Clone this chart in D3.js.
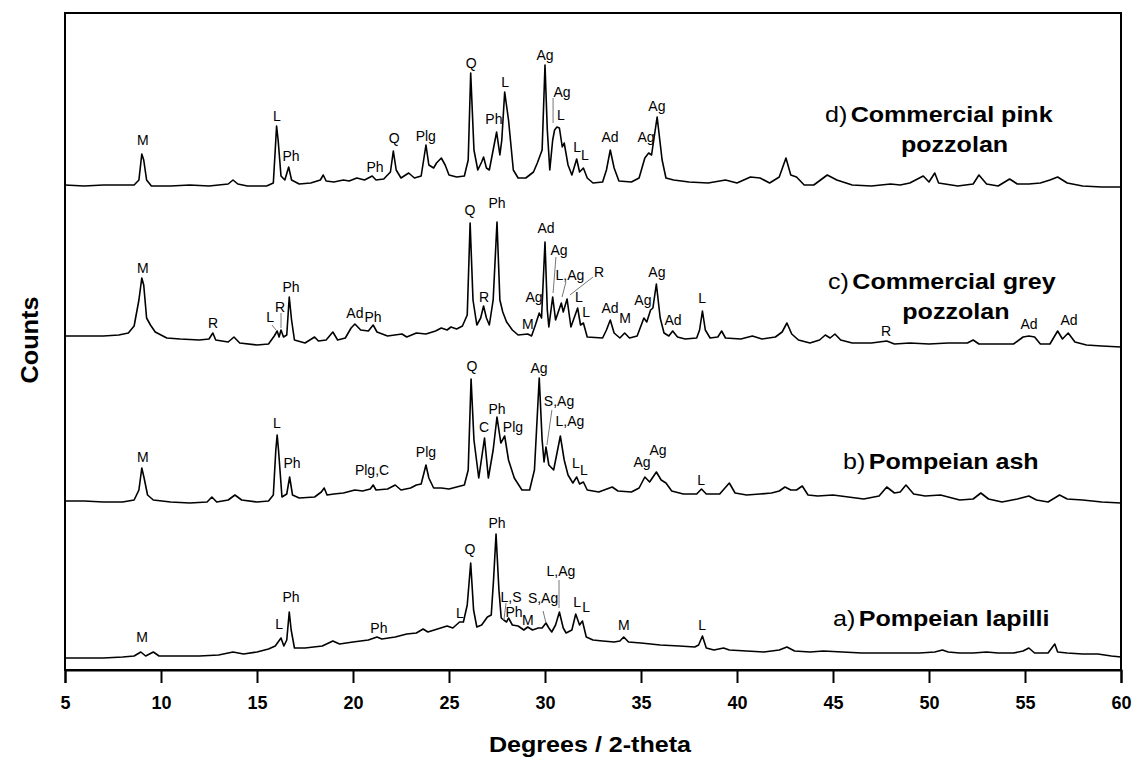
<!DOCTYPE html>
<html><head><meta charset="utf-8">
<script src="https://cdn.jsdelivr.net/npm/d3@7/dist/d3.min.js"></script>
<style>
body{margin:0;background:#fff}
text{font-family:Arial,"Liberation Sans",Helvetica,sans-serif;fill:#000}
</style>
</head><body>
<svg id="chart" width="1134" height="760"></svg>
<script>
// ---- DATA (2-theta in degrees, counts offset-stacked, arbitrary units) ----
const xTicks = [5,10,15,20,25,30,35,40,45,50,55,60];

const seriesD = [[5.0,485],[6.0,484],[7.0,485],[8.0,485],[8.6,485],[8.85,490],[9.0,516],[9.1,510],[9.25,490],[9.5,484],[10.5,484],[11.5,485],[12.5,484],[13.5,486],[13.75,490],[14.0,486],[14.5,484],[15.5,484],[15.85,487],[15.95,520],[16.02,544],[16.1,530],[16.25,494],[16.45,490],[16.65,503],[16.8,490],[17.2,486],[17.8,487],[18.3,490],[18.45,495],[18.6,489],[19.0,488],[19.5,490],[19.8,489],[20.2,492],[20.6,490],[21.0,494],[21.2,490],[21.6,491],[21.95,498],[22.1,519],[22.25,500],[22.5,492],[22.9,497],[23.2,492],[23.55,494],[23.8,525],[23.95,505],[24.2,502],[24.35,507],[24.6,512],[24.8,505],[25.0,495],[25.4,493],[25.8,494],[26.0,510],[26.13,597],[26.3,520],[26.5,500],[26.7,508],[26.8,513],[26.95,502],[27.1,500],[27.3,520],[27.48,538],[27.65,515],[27.75,530],[27.9,578],[28.1,550],[28.2,530],[28.35,500],[28.6,492],[29.0,492],[29.4,498],[29.6,507],[29.85,520],[30.0,605],[30.12,540],[30.25,500],[30.4,530],[30.5,540],[30.62,543],[30.75,542],[30.9,523],[31.0,527],[31.2,505],[31.4,495],[31.65,511],[31.8,498],[32.0,502],[32.2,492],[32.5,487],[33.0,488],[33.2,500],[33.4,520],[33.6,502],[33.85,489],[34.5,488],[34.9,492],[35.2,512],[35.4,517],[35.55,515],[35.84,553],[36.1,510],[36.3,492],[36.7,490],[37.5,488],[38.5,487],[39.4,490],[40.0,487],[40.7,493],[41.2,492],[41.7,487],[42.2,493],[42.55,512],[42.8,495],[43.1,493],[43.5,485],[44.0,485],[44.7,495],[45.2,490],[46.0,485],[47.0,484],[48.0,486],[48.5,485],[49.0,487],[49.7,494],[50.0,488],[50.3,497],[50.5,487],[51.5,484],[52.3,486],[52.6,495],[53.0,486],[53.6,484],[54.2,491],[54.6,486],[55.2,486],[55.8,487],[56.3,490],[56.7,493],[57.2,487],[58.0,484],[59.0,483],[60.0,483]];

const seriesC = [[5.0,334],[6.0,334],[7.0,334],[7.8,335],[8.3,337],[8.6,344],[8.85,370],[9.0,392],[9.1,385],[9.25,352],[9.45,345],[9.7,338],[10.3,332],[11.0,331],[12.0,330],[12.5,331],[12.7,337],[12.85,330],[13.5,328],[13.8,333],[14.1,327],[15.0,325],[15.6,326],[15.9,334],[16.05,339],[16.15,333],[16.25,340],[16.38,333],[16.55,335],[16.68,373],[16.8,350],[16.95,330],[17.5,327],[18.0,333],[18.2,329],[18.6,330],[18.95,338],[19.2,330],[19.6,332],[19.9,342],[20.1,346],[20.4,340],[20.8,339],[21.05,345],[21.25,338],[21.8,334],[22.55,336],[22.8,333],[23.3,337],[23.8,336],[24.3,339],[24.6,342],[24.9,340],[25.1,343],[25.4,341],[25.7,344],[25.95,355],[26.1,447],[26.25,370],[26.45,345],[26.65,352],[26.8,364],[26.95,352],[27.1,345],[27.3,370],[27.5,448],[27.65,370],[27.8,358],[28.0,348],[28.3,340],[28.6,335],[29.1,336],[29.3,334],[29.5,345],[29.7,357],[29.82,352],[30.0,428],[30.12,360],[30.2,343],[30.4,373],[30.55,350],[30.85,367],[30.95,358],[31.15,371],[31.35,343],[31.7,362],[31.85,345],[32.0,347],[32.2,333],[33.0,332],[33.2,340],[33.4,350],[33.6,337],[33.9,332],[34.15,337],[34.4,332],[34.8,334],[35.15,352],[35.3,348],[35.5,360],[35.62,362],[35.8,386],[36.0,352],[36.2,337],[36.45,334],[36.65,339],[36.9,333],[37.3,331],[37.9,332],[38.05,340],[38.2,359],[38.35,340],[38.6,332],[39.0,333],[39.2,339],[39.4,332],[40.2,331],[40.8,334],[41.3,331],[42.0,333],[42.35,338],[42.6,347],[42.85,336],[43.2,330],[43.8,327],[44.3,330],[44.6,335],[44.85,332],[45.1,336],[45.4,330],[46.0,327],[47.0,327],[47.8,329],[48.2,326],[49.0,327],[50.0,326],[51.0,327],[52.0,327],[52.3,330],[52.6,326],[53.5,326],[54.4,326],[54.9,333],[55.2,334],[55.5,333],[55.8,326],[56.3,326],[56.7,339],[56.95,331],[57.25,337],[57.6,328],[58.2,325],[59.0,324],[60.0,323]];

const seriesB = [[5.0,169],[6.0,169],[7.0,168],[8.0,168],[8.6,170],[8.85,180],[9.0,202],[9.12,192],[9.3,175],[9.6,170],[10.5,168],[11.5,167],[12.4,168],[12.65,173],[12.9,168],[13.5,170],[13.85,175],[14.2,170],[15.0,168],[15.6,169],[15.85,175],[15.98,220],[16.05,235],[16.12,220],[16.3,173],[16.55,176],[16.7,193],[16.85,175],[17.2,172],[18.0,173],[18.35,178],[18.5,182],[18.65,175],[19.0,176],[19.5,177],[20.1,180],[20.5,179],[20.9,181],[21.05,185],[21.2,180],[21.8,181],[22.2,185],[22.5,180],[23.0,182],[23.3,185],[23.55,186],[23.8,205],[23.95,192],[24.2,182],[24.6,182],[25.0,181],[25.4,183],[25.8,185],[26.0,200],[26.15,291],[26.3,230],[26.55,192],[26.85,232],[27.05,192],[27.3,220],[27.5,253],[27.7,227],[27.9,234],[28.1,210],[28.4,192],[28.8,180],[29.2,180],[29.45,200],[29.7,292],[29.85,230],[29.95,208],[30.05,223],[30.2,205],[30.45,200],[30.8,234],[31.0,210],[31.2,195],[31.45,187],[31.65,193],[31.8,186],[32.0,188],[32.2,180],[32.8,178],[33.5,183],[33.8,179],[34.5,178],[34.9,182],[35.2,193],[35.45,188],[35.8,198],[36.05,190],[36.3,187],[36.6,179],[37.2,176],[37.9,176],[38.15,181],[38.4,176],[39.1,176],[39.6,187],[39.9,177],[40.5,175],[41.2,176],[41.8,177],[42.2,179],[42.5,183],[42.8,180],[43.1,180],[43.4,184],[43.7,175],[44.2,174],[45.0,175],[45.8,173],[46.6,171],[47.4,174],[47.8,183],[48.2,177],[48.5,178],[48.8,185],[49.2,176],[49.8,174],[50.6,175],[51.6,170],[52.3,171],[52.7,177],[53.1,171],[53.8,168],[54.6,171],[55.2,174],[55.6,170],[56.2,168],[56.8,175],[57.2,171],[58.0,170],[59.0,168],[60.0,167]];

const seriesA = [[5.0,12],[6.0,12],[7.0,12],[8.0,13],[8.6,14],[8.95,18],[9.2,14],[9.6,18],[9.9,14],[11.0,14],[12.0,14],[13.0,15],[13.75,18],[14.3,16],[15.0,18],[15.6,21],[15.95,24],[16.25,32],[16.4,24],[16.55,30],[16.68,58],[16.78,40],[16.95,22],[17.5,22],[18.4,24],[18.95,29],[19.3,26],[20.0,28],[20.8,30],[21.25,33],[21.5,31],[22.2,33],[22.8,36],[23.3,37],[23.65,41],[23.9,38],[24.4,41],[24.9,44],[25.2,42],[25.55,48],[25.75,48],[25.95,65],[26.13,107],[26.28,60],[26.45,43],[26.7,45],[27.0,53],[27.2,55],[27.32,90],[27.45,136],[27.6,80],[27.72,52],[27.85,50],[28.0,48],[28.1,52],[28.3,45],[28.6,44],[28.9,40],[29.1,43],[29.35,40],[29.65,42],[29.85,42],[30.05,47],[30.2,42],[30.35,38],[30.55,45],[30.75,58],[30.95,42],[31.1,37],[31.4,40],[31.6,56],[31.8,45],[31.95,49],[32.15,33],[32.5,30],[33.0,29],[33.6,28],[33.9,29],[34.1,33],[34.35,28],[35.0,27],[36.0,25],[37.0,24],[37.8,23],[38.0,25],[38.2,34],[38.4,22],[38.8,20],[39.3,22],[39.6,20],[40.5,19],[41.4,18],[42.2,20],[42.6,23],[43.0,19],[43.8,18],[44.5,19],[45.5,18],[46.5,17],[47.5,17],[48.5,17],[49.5,17],[50.3,18],[50.7,20],[51.0,18],[51.6,17],[52.3,17],[53.0,18],[53.6,17],[54.4,17],[54.9,19],[55.2,22],[55.5,17],[56.2,17],[56.55,26],[56.7,18],[57.2,17],[58.0,16],[58.8,16],[59.5,14],[60.0,13]];

// peak labels: [text, 2-theta, counts]
const labelsD = [["M",9.05,530],["L",16.03,554],["Ph",16.77,514],["Ph",21.15,503],["Q",22.14,532],["Plg",23.79,534],["Q",26.15,607],["Ph",27.34,551],["L",27.92,588],["Ag",30.0,615],["Ag",30.89,578],["L",30.83,555],["L",31.67,523],["L",32.08,515],["Ad",33.39,533],["Ag",35.26,533],["Ag",35.83,564]];
const labelsC = [["M",9.05,402],["R",12.71,347],["L",15.68,353],["R",16.2,363],["Ph",16.77,383],["Ad",20.1,357],["Ph",21.04,353],["Q",26.09,460],["R",26.82,373],["Ph",27.5,467],["M",29.11,346],["Ag",29.43,373],["Ad",30.05,442],["Ag",30.73,420],["L,Ag",31.3,395],["R",32.81,398],["L",31.77,373],["L",32.14,358],["Ad",33.39,362],["M",34.17,352],["Ag",35.1,370],["Ag",35.83,398],["Ad",36.67,350],["L",38.18,372],["R",47.76,339],["Ad",55.21,346],["Ad",57.29,350]];
const labelsB = [["M",9.06,213],["L",16.04,247],["Ph",16.82,207],["Plg,C",20.99,200],["Plg",23.8,218],["Q",26.2,304],["C",26.82,243],["Ph",27.5,261],["Plg",28.33,243],["Ag",29.69,302],["S,Ag",30.73,269],["L,Ag",31.3,249],["L",31.61,207],["L",32.03,200],["Ag",35.05,208],["Ag",35.89,220],["L",38.13,190]];
const labelsA = [["M",9.01,33],["L",16.15,46],["Ph",16.77,73],["Ph",21.35,42],["L",25.57,57],["Q",26.09,121],["Ph",27.5,147],["L,S",28.23,73],["Ph",28.39,58],["M",29.11,50],["S,Ag",29.9,72],["L,Ag",30.83,99],["L",31.67,68],["L",32.14,63],["M",34.11,45],["L",38.18,45]];

// leader lines: [2θ1, counts1, 2θ2, counts2]
const leaders = [[30.42,572,30.42,547],[15.78,345,15.99,340],[16.25,357,16.25,342],[30.57,413,30.42,377],[31.09,388,30.89,373],[32.5,393,31.3,375],[30.36,260,30.1,225],[27.97,67,27.86,50],[29.9,59,30.05,47],[30.73,90,30.73,62]];

// sample names: [prefix, name line 1, name line 2, 2θ of left edge, counts line 1, 2θ centre line 2, counts line 2]
const sampleNames = [
  ["d)","Commercial pink","pozzolan",44.58,555,51.33,525],
  ["c)","Commercial grey","pozzolan",44.74,388,51.4,358],
  ["b)","Pompeian ash","",45.52,208,0,0],
  ["a)","Pompeian lapilli","",45.0,51,0,0]
];

// ---- DRAW ----
const svg = d3.select("#chart");
const L = 65, R = 1121, T = 13, B = 670;
const x = d3.scaleLinear().domain([5,60]).range([L,R]);
const y = d3.scaleLinear().domain([0,657]).range([B,T]);

const line = d3.line().x(d=>x(d[0])).y(d=>y(d[1]));
[seriesA,seriesB,seriesC,seriesD].forEach(s=>{
  svg.append("path").datum(s).attr("d",line)
    .attr("fill","none").attr("stroke","#000").attr("stroke-width",1.6)
    .attr("stroke-linejoin","round");
});

svg.append("g").selectAll("line").data(leaders).join("line")
  .attr("x1",d=>x(d[0])).attr("y1",d=>y(d[1]))
  .attr("x2",d=>x(d[2])).attr("y2",d=>y(d[3]))
  .attr("stroke","#777").attr("stroke-width",1);

const allLabels = [].concat(labelsA,labelsB,labelsC,labelsD);
svg.append("g").selectAll("text").data(allLabels).join("text")
  .attr("x",d=>x(d[1])).attr("y",d=>y(d[2]))
  .attr("text-anchor","middle").attr("dominant-baseline","central")
  .attr("font-size",14).text(d=>d[0]);

sampleNames.forEach(s=>{
  const g = svg.append("g").attr("transform",`translate(${x(s[3])},${y(s[4])}) scale(1.14,1)`);
  const t = g.append("text").attr("dominant-baseline","central").attr("font-size",22);
  t.append("tspan").attr("font-weight","normal").text(s[0]);
  t.append("tspan").attr("font-weight","bold").attr("dx",3).text(s[1]);
  if (s[2]) {
    svg.append("g").attr("transform",`translate(${x(s[5])},${y(s[6])}) scale(1.14,1)`)
      .append("text").attr("dominant-baseline","central").attr("text-anchor","middle")
      .attr("font-size",22).attr("font-weight","bold").text(s[2]);
  }
});

// frame
svg.append("rect").attr("x",L).attr("y",T).attr("width",R-L).attr("height",B-T)
  .attr("fill","none").attr("stroke","#000").attr("stroke-width",2);

// x axis
const ax = svg.append("g").attr("transform",`translate(0,${B})`)
  .call(d3.axisBottom(x).tickValues(xTicks).tickSize(13).tickPadding(13).tickFormat(d3.format("d")));
ax.select(".domain").attr("stroke-width",2);
ax.selectAll(".tick line").attr("stroke-width",2);
ax.selectAll(".tick text").attr("font-size",18).attr("font-weight","bold")
  .attr("font-family","Arial, 'Liberation Sans', sans-serif").attr("fill","#000");

// axis titles
svg.append("text").attr("transform","translate(30,340) rotate(-90) scale(1.1,1)")
  .attr("text-anchor","middle").attr("dominant-baseline","central")
  .attr("font-size",23).attr("font-weight","bold").text("Counts");
svg.append("text").attr("transform","translate(590,745) scale(1.14,1)")
  .attr("text-anchor","middle").attr("dominant-baseline","central")
  .attr("font-size",22).attr("font-weight","bold").text("Degrees / 2-theta");
</script>
</body></html>
